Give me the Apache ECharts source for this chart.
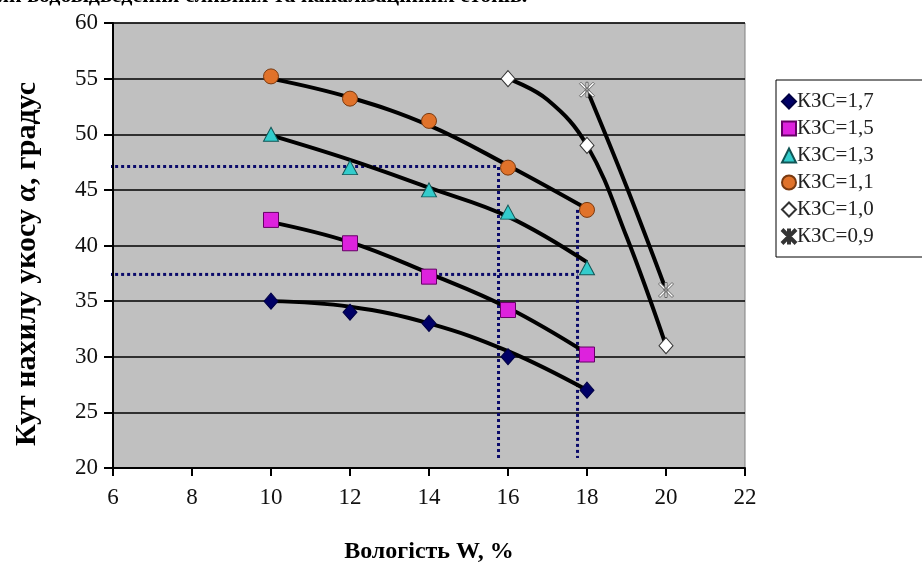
<!DOCTYPE html>
<html>
<head>
<meta charset="utf-8">
<script src="https://cdn.jsdelivr.net/npm/echarts@6/dist/echarts.min.js"></script>
<style>
  html, body { margin: 0; padding: 0; background: #fff; }
  #chart { width: 922px; height: 571px; }
</style>
</head>
<body>
<div id="chart"></div>
<script>
// measured points, [W, angle]
var k17 = [[10, 35], [12, 34], [14, 33], [16, 30], [18, 27]];
var k15 = [[10, 42.3], [12, 40.2], [14, 37.2], [16, 34.2], [18, 30.2]];
var k13 = [[10, 50], [12, 47], [14, 45], [16, 43], [18, 38]];
var k11 = [[10, 55.2], [12, 53.2], [14, 51.2], [16, 47], [18, 43.2]];
var k10 = [[16, 55], [18, 49], [20, 31]];
var k09 = [[18, 54], [20, 36]];

// trend curves
var t17 = [[10, 35], [12, 34.5], [14, 33], [16, 30.5], [18, 27]];
var t15 = [[10, 42.1], [12, 40.3], [14, 37.5], [16, 34.4], [18, 30.3]];
var t13 = [[10, 49.9], [12, 47.7], [14, 45.2], [16, 42.6], [18, 38.5]];
var t11 = [[10, 55], [12, 53.3], [14, 50.8], [16, 47.2], [18, 43.3]];
var t10 = [[16, 55], [17, 53.1], [18, 49], [19, 40.8], [20, 31]];
var t09 = [[18, 54], [19, 45.3], [20, 36]];

// dotted reading lines
var guide1 = [[5.75, 47.1], [15.76, 47.1], [15.76, 20.9]];
var guide2 = [[5.75, 37.4], [17.76, 37.4]];
var guide3 = [[17.76, 43.2], [17.76, 20.9]];

var names = ['КЗС=1,7', 'КЗС=1,5', 'КЗС=1,3', 'КЗС=1,1', 'КЗС=1,0', 'КЗС=0,9'];
var xTicks = { min: 6, max: 22, step: 2 };
var yTicks = { min: 20, max: 60, step: 5 };

var serif = 'Liberation Serif';
var starPath = 'path://M4.3,0 L5.7,0 L5.7,10 L4.3,10 Z M0,1 L1,0 L10,9 L9,10 Z M9,0 L10,1 L1,10 L0,9 Z';

var myChart = echarts.init(document.getElementById('chart'));

function marks(name, data, symbol, size, color, border) {
  return {
    name: name, type: 'scatter', data: data, z: 5,
    symbol: symbol, symbolSize: size,
    itemStyle: { color: color, borderColor: border, borderWidth: 1, opacity: 1 }
  };
}
function trend(data) {
  return {
    type: 'line', data: data, smooth: 0.4, symbol: 'none', silent: true, z: 3,
    lineStyle: { color: '#000', width: 4 }
  };
}
function guide(data) {
  return {
    type: 'line', data: data, symbol: 'none', silent: true, clip: false, z: 2,
    lineStyle: { color: '#0a0a6a', width: 3, type: [3, 3] }
  };
}

var option = {
  animation: false,
  backgroundColor: '#fff',
  graphic: [{
    type: 'text', left: -6, top: -15,
    style: { text: 'ми водовідведення сливних та каналізаційних стоків.', font: 'bold 22px "Liberation Serif"', fill: '#000' }
  }, {
    // y axis title
    type: 'text', x: 27, y: 264, rotation: Math.PI / 2,
    style: {
      text: '{a|Кут нахилу укосу }{i|α}{a|, градус}',
      align: 'center', verticalAlign: 'middle',
      rich: {
        a: { fontFamily: serif, fontSize: 30, fontWeight: 'bold', fill: '#000' },
        i: { fontFamily: serif, fontSize: 30, fontWeight: 'bold', fontStyle: 'italic', fill: '#000' }
      }
    }
  }],
  grid: {
    left: 113, top: 23, right: 177, bottom: 103, outerBoundsMode: 'none',
    show: true, backgroundColor: '#c0c0c0', borderColor: '#808080', borderWidth: 1
  },
  legend: {
    orient: 'vertical', left: 776, top: 80,
    backgroundColor: '#fff', borderColor: '#000', borderWidth: 1,
    padding: [11, 60, 10, 5], itemGap: 6, itemWidth: 14, itemHeight: 14,
    textStyle: { fontFamily: serif, fontSize: 21, color: '#222', padding: [0, 0, 0, -4] },
    data: names.slice(0, 5).concat([{ name: names[5], itemStyle: { color: '#333', borderColor: '#333' } }])
  },
  xAxis: {
    type: 'value', min: xTicks.min, max: xTicks.max, interval: xTicks.step,
    name: 'Вологість W, %', nameLocation: 'middle', nameGap: 72,
    nameTextStyle: { fontFamily: serif, fontSize: 24, fontWeight: 'bold', color: '#000' },
    axisLine: { show: true, onZero: false, lineStyle: { color: '#000', width: 2 } },
    axisTick: { show: true, length: 8, lineStyle: { color: '#000', width: 2 } },
    axisLabel: { fontFamily: serif, fontSize: 23, color: '#111', margin: 18 },
    splitLine: { show: false }
  },
  yAxis: {
    type: 'value', min: yTicks.min, max: yTicks.max, interval: yTicks.step,
    axisLine: { show: true, onZero: false, lineStyle: { color: '#000', width: 2 } },
    axisTick: { show: true, length: 9, lineStyle: { color: '#000', width: 2 } },
    axisLabel: { fontFamily: serif, fontSize: 23, color: '#111', margin: 15 },
    splitLine: { show: true, lineStyle: { color: '#000', width: 1.5 } }
  },
  series: [
    guide(guide1), guide(guide2), guide(guide3),
    trend(t17), trend(t15), trend(t13), trend(t11), trend(t10), trend(t09),
    marks(names[0], k17, 'diamond', [14, 16], '#000066', '#000044'),
    marks(names[1], k15, 'rect', 15, '#dd22dd', '#660066'),
    marks(names[2], k13, 'triangle', [15, 14], '#33cccc', '#115555'),
    marks(names[3], k11, 'circle', 15, '#e0722a', '#7a3a10'),
    marks(names[4], k10, 'diamond', [14, 16], '#ffffff', '#333333'),
    marks(names[5], k09, starPath, 15, '#ffffff', '#666666')
  ]
};

myChart.setOption(option);
window.addEventListener('resize', function () { myChart.resize(); });
</script>
</body>
</html>
